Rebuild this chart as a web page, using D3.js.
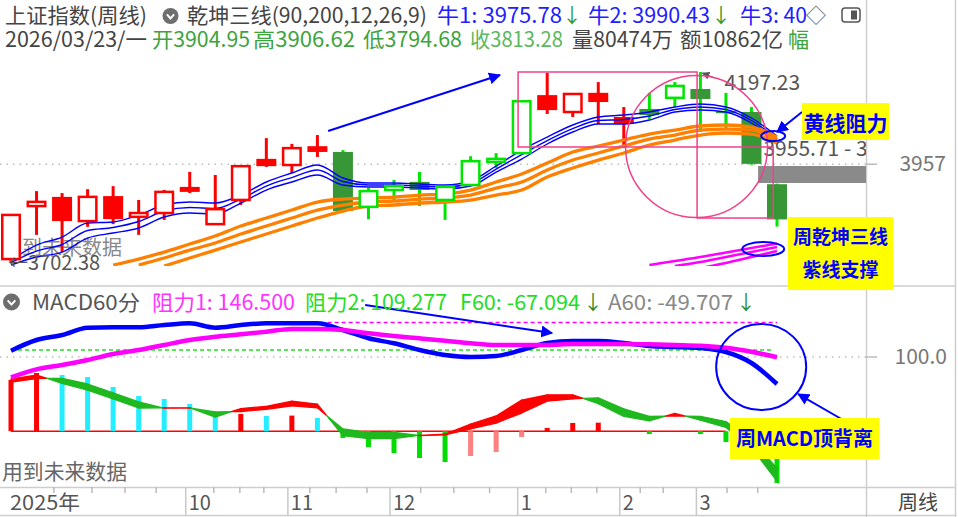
<!DOCTYPE html>
<html>
<head>
<meta charset="utf-8">
<title>上证指数(周线) 乾坤三线</title>
<script src="https://cdn.jsdelivr.net/npm/d3@7"></script>
<style>
  body { margin: 0; background: #fff; }
  svg { display: block; }
  text { font-family: "Noto Sans CJK SC", "Noto Sans", sans-serif; }
</style>
</head>
<body>
<svg id="chart" width="958" height="517"></svg>
<script>
//==========================================
// Data (weekly bars)
//==========================================

// Week start dates (categories)
const weeks = ["2025-08-18", "2025-08-25", "2025-09-01", "2025-09-08", "2025-09-15", "2025-09-22",
  "2025-09-29", "2025-10-09", "2025-10-13", "2025-10-20", "2025-10-27", "2025-11-03", "2025-11-10",
  "2025-11-17", "2025-11-24", "2025-12-01", "2025-12-08", "2025-12-15", "2025-12-22", "2025-12-29",
  "2026-01-05", "2026-01-12", "2026-01-19", "2026-01-26", "2026-02-02", "2026-02-09", "2026-02-23",
  "2026-03-02", "2026-03-09", "2026-03-16", "2026-03-23"];

const openP = [3710, 3848, 3872, 3809, 3874, 3820, 3830, 3898, 3801, 3864, 3971, 3955, 4004, 3989, 3846,
  3890, 3911, 3864, 3903, 3963, 3986, 4137, 4093, 4143, 4080, 4101, 4130, 4153, 4095, 4093, 3904.95];
const highP = [3825, 3887, 3882, 3892, 3900, 3864, 3890, 3937, 3929, 3953, 4025, 4010, 4033, 3994, 3895,
  3916, 3937, 3900, 3978, 3986, 4122, 4195, 4140, 4171, 4106, 4143, 4171, 4197.23, 4143, 4106, 3906.62];
const lowP = [3702.38, 3773, 3728, 3794, 3801, 3773, 3812, 3882, 3800, 3851, 3950, 3934, 3976, 3832, 3814,
  3859, 3848, 3812, 3902, 3947, 3985, 4088, 4080, 4062, 3999, 4075, 4106, 4041, 4049, 3955.71, 3794.68];
const closeP = [3825, 3859, 3809, 3872, 3814, 3830, 3885, 3885, 3840, 3952, 3952, 3999, 3989, 3835, 3887,
  3900, 3890, 3898, 3965, 3971, 4121, 4098, 4140, 4119, 4062, 4085, 4161, 4127, 4093, 3958, 3813.28];

// 1 = red (bull) state of the indicator, 0 = green
const trend = [1, 1, 1, 1, 1, 1, 1, 1, 1, 1, 1, 1, 1, 0, 0, 0, 0, 0, 0, 0, 0, 1, 1, 1, 1, 0, 0, 0, 0, 0, 0];

// 乾坤三线 blue lines
const blue1 = [3707.5, 3746.5, 3767.4, 3803.9, 3806.5, 3824.7, 3850.8, 3858.6, 3856.0, 3876.8, 3910.7, 3934.1,
  3955.0, 3921.1, 3908.1, 3908.1, 3905.5, 3902.8, 3913.3, 3952.4, 3994.0, 4027.9, 4059.2, 4080.0, 4085.2,
  4093.0, 4106.1, 4113.9, 4106.1, 4077.4, 4030.5];
const blue2 = [3701.0, 3730.9, 3747.9, 3784.3, 3792.2, 3807.8, 3835.1, 3844.2, 3841.6, 3866.4, 3900.2, 3922.3,
  3941.9, 3912.0, 3902.8, 3902.8, 3900.2, 3897.6, 3906.8, 3944.5, 3982.3, 4018.8, 4050.0, 4070.9, 4073.5,
  4082.6, 4099.5, 4106.1, 4099.5, 4070.9, 4024.0];
const blue3 = [3694.5, 3715.3, 3728.3, 3764.8, 3777.8, 3790.9, 3819.5, 3829.9, 3827.3, 3856.0, 3889.8, 3910.7,
  3928.9, 3902.8, 3897.6, 3897.6, 3895.0, 3892.4, 3900.2, 3936.7, 3970.6, 4009.7, 4040.9, 4061.8, 4061.8,
  4072.2, 4093.0, 4098.2, 4093.0, 4064.4, 4017.5];

// 黄线 (orange)
const orange1 = [null, null, null, null, 3694.5, 3710.1, 3728.3, 3749.2, 3770.0, 3796.1, 3816.9, 3837.7, 3858.6,
  3866.4, 3869.0, 3871.6, 3876.8, 3879.4, 3889.8, 3910.7, 3931.5, 3960.1, 3988.8, 4004.5, 4020.1, 4035.7,
  4046.1, 4056.6, 4059.2, 4053.9, 4027.9];
const orange2 = [null, null, null, null, null, 3694.5, 3712.7, 3733.5, 3751.8, 3775.2, 3796.1, 3816.9, 3837.7,
  3850.8, 3858.6, 3861.2, 3866.4, 3869.0, 3876.8, 3895.0, 3910.7, 3941.9, 3967.9, 3986.2, 4004.5, 4022.7,
  4033.1, 4046.1, 4048.7, 4046.1, 4020.1];
const orange3 = [null, null, null, null, null, null, 3691.9, 3712.7, 3733.5, 3754.4, 3775.2, 3796.1, 3816.9,
  3835.1, 3848.2, 3850.8, 3856.0, 3858.6, 3863.8, 3876.8, 3889.8, 3923.7, 3947.1, 3967.9, 3986.2, 4007.1,
  4020.1, 4033.1, 4038.3, 4035.7, 4012.3];

// 紫线 (magenta support)
const purple1 = [null, null, null, null, null, null, null, null, null, null, null, null, null, null, null, null,
  null, null, null, null, null, null, null, null, null, 3694.5, 3704.9, 3715.3, 3727.0, 3738.7, 3750.5];
const purple2 = [null, null, null, null, null, null, null, null, null, null, null, null, null, null, null, null,
  null, null, null, null, null, null, null, null, null, null, 3691.9, 3702.3, 3715.3, 3728.3, 3741.3];
const purple3 = [null, null, null, null, null, null, null, null, null, null, null, null, null, null, null, null,
  null, null, null, null, null, null, null, null, null, null, null, 3686.6, 3699.7, 3715.3, 3730.9];

const bullLevels = [3975.78, 3990.43];
const lastVolume = "80474万";
const lastAmount = "10862亿";

// MACD60分 panel
const macdBlue = [108.5, 122.9, 129.6, 139.5, 140.0, 140.0, 143.1, 145.4, 139.5, 143.1, 145.4, 145.4, 145.4,
  136.4, 125.2, 118.5, 109.4, 102.7, 100.0, 101.3, 109.4, 118.9, 121.6, 121.6, 118.9, 114.8, 113.5, 112.1,
  106.7, 91.9, 63.6];
const macdPink = [72.6, 83.4, 89.2, 96.0, 104.0, 109.4, 116.2, 122.9, 127.4, 130.6, 134.1, 137.7, 137.7, 136.4,
  131.9, 128.3, 125.2, 122.0, 118.5, 116.2, 116.2, 116.2, 117.5, 117.5, 117.5, 117.1, 116.2, 115.2, 112.5,
  107.1, 99.6];
const macdHist = [69.0, 78.4, 75.7, 73.0, 59.6, 47.4, 43.4, 36.7, 21.8, 23.2, 20.5, 21.0, 17.8, -9.2, -21.3,
  -29.4, -36.1, -41.5, -33.4, -28.0, -7.8, 4.4, 11.1, 11.5, 0, -3.8, 0, -3.8, -14.6, -33, -69.8];
const f60 = [70.4, 75.7, 64.6, 55.5, 43.4, 31.3, 31.5, 31.5, 19.1, 30.5, 33.5, 40.5, 36.5, -6, -10, -10, -5.5,
  -4, 9.7, 20.5, 42, 49, 49, 37, 20, 14, 24, 15, 5, -22, -67.094];
const a60 = [66, 71, 71.3, 63.6, 51.5, 39.4, 31.0, 31.2, 25.9, 26.5, 29.5, 34.0, 31.5, 3, -1.5, -1.5, -5.8, -5,
  3.0, 11, 24.5, 40.5, 43.5, 45, 30, 20, 20.5, 20, 13, -12, -49.707];
const resist1 = 146.5;
const resist2 = 109.277;

// Axis ticks
const priceTicks = [3957];
const macdTicks = [100.0];
const minorTicks = [1.84, 3.33, 4.62, 5.84, 8.1, 9.12, 10.06, 11.86, 12.89, 14.1, 16.2, 17.5, 18.9, 21.1,
  22.1, 23.1, 24.8, 25.7, 28.2, 29.4];

//==========================================
// Scales and helpers
//==========================================
const RED = "#ff0000", GREEN = "#00e600", DGREEN = "#379737", BLUE = "#0000ff";
const PINK = "#f0408a", ORANGE = "#ff8000", MAGENTA = "#ff00ff";
const RIGHT = 866;

const x = d3.scaleLinear().domain([0, weeks.length - 1]).range([11, 777]);
const yP = d3.scaleLinear().domain([3702.38, 4197.23]).range([262, 72]);
const yM = d3.scaleLinear().domain([0, 100]).range([431.2, 357]);

const svg = d3.select("#chart");
const defs = svg.append("defs");

defs.append("clipPath").attr("id", "clip-main")
  .append("rect").attr("x", 0).attr("y", 55).attr("width", RIGHT).attr("height", 211);
defs.append("clipPath").attr("id", "clip-left")
  .append("rect").attr("x", 0).attr("y", 0).attr("width", RIGHT).attr("height", 517);

function addMarker(id, color, w) {
  defs.append("marker").attr("id", id)
    .attr("viewBox", "0 0 10 10").attr("refX", 9).attr("refY", 5)
    .attr("markerWidth", w).attr("markerHeight", w)
    .attr("orient", "auto")
    .append("path").attr("d", "M0,0 L10,5 L0,10 z").attr("fill", color);
}
addMarker("arrow-blue", BLUE, 6);
addMarker("arrow-gray", "#555", 6);

function addText(g, str, px, py, opts = {}) {
  const t = g.append("text")
    .attr("x", px).attr("y", py)
    .attr("font-size", opts.size || 20)
    .attr("font-weight", opts.weight || "normal")
    .attr("fill", opts.fill || "#444")
    .attr("text-anchor", opts.anchor || "start")
    .text(str);
  // stretch to the width measured on the reference
  if (opts.len) t.attr("textLength", opts.len).attr("lengthAdjust", "spacingAndGlyphs");
  return t;
}

function chevronIcon(g, cx, cy, r) {
  g.append("circle").attr("cx", cx).attr("cy", cy).attr("r", r).attr("fill", "#6e6e6e");
  g.append("path")
    .attr("d", `M${cx - r * 0.45},${cy - r * 0.2} L${cx},${cy + r * 0.3} L${cx + r * 0.45},${cy - r * 0.2}`)
    .attr("fill", "none").attr("stroke", "#fff").attr("stroke-width", 2);
}

//==========================================
// Frame
//==========================================
const frame = svg.append("g").attr("stroke", "#cdcdcd").attr("stroke-width", 1.5);
frame.append("line").attr("x1", RIGHT + 0.5).attr("x2", RIGHT + 0.5).attr("y1", 0).attr("y2", 517);
frame.append("line").attr("x1", 955.5).attr("x2", 955.5).attr("y1", 0).attr("y2", 517);
frame.append("line").attr("x1", 0).attr("x2", 956).attr("y1", 286).attr("y2", 286);
frame.append("line").attr("x1", 0).attr("x2", 956).attr("y1", 487.5).attr("y2", 487.5);
frame.append("line").attr("x1", 0).attr("x2", 956).attr("y1", 515.5).attr("y2", 515.5);

//==========================================
// Price panel
//==========================================
const main = svg.append("g");

// dotted guide + right axis label
priceTicks.forEach(v => {
  main.append("line").attr("x1", 0).attr("x2", RIGHT).attr("y1", yP(v)).attr("y2", yP(v))
    .attr("stroke", "#bdbdbd").attr("stroke-width", 1.5).attr("stroke-dasharray", "1.5,5");
  main.append("line").attr("x1", RIGHT).attr("x2", RIGHT + 11).attr("y1", yP(v)).attr("y2", yP(v))
    .attr("stroke", "#bdbdbd").attr("stroke-width", 1.5);
  addText(main, String(v), 946, yP(v) + 7, { fill: "#777", anchor: "end", size: 21 });
});

addText(main, "用到未来数据", 2, 255, { fill: "#888", size: 20 });

// gray band on the right (current level area)
main.append("rect")
  .attr("x", x(29.26)).attr("y", yP(3952.4))
  .attr("width", RIGHT - x(29.26)).attr("height", yP(3908.1) - yP(3952.4))
  .attr("fill", "#8a8a8a");

const candles = weeks.map((w, i) => ({
  i, o: openP[i], h: highP[i], l: lowP[i], c: closeP[i], bull: trend[i] === 1
}));
const bodyW = 20;

// wicks
main.selectAll(".wick").data(candles).enter().append("line")
  .attr("class", "wick")
  .attr("x1", d => x(d.i)).attr("x2", d => x(d.i))
  .attr("y1", d => yP(d.h)).attr("y2", d => yP(d.l))
  .attr("stroke", d => d.bull ? RED : GREEN).attr("stroke-width", 3);

// solid bodies (close <= open)
main.selectAll(".solid").data(candles.filter(d => d.c <= d.o)).enter().append("rect")
  .attr("class", "solid")
  .attr("x", d => x(d.i) - bodyW / 2).attr("y", d => yP(d.o))
  .attr("width", bodyW).attr("height", d => Math.max(2, yP(d.c) - yP(d.o)))
  .attr("fill", d => d.bull ? RED : DGREEN);

// indicator lines (clipped to the panel)
const lines = main.append("g").attr("clip-path", "url(#clip-main)");
const priceLine = d3.line()
  .defined(v => v != null)
  .x((v, i) => x(i)).y(v => yP(v))
  .curve(d3.curveMonotoneX);

[purple3, purple2, purple1].forEach(s => {
  lines.append("path").attr("d", priceLine(s))
    .attr("fill", "none").attr("stroke", MAGENTA).attr("stroke-width", 2.5);
});
[blue3, blue2, blue1].forEach(s => {
  lines.append("path").attr("d", priceLine(s))
    .attr("fill", "none").attr("stroke", BLUE).attr("stroke-width", 1.4);
});
[orange3, orange2, orange1].forEach(s => {
  lines.append("path").attr("d", priceLine(s))
    .attr("fill", "none").attr("stroke", ORANGE).attr("stroke-width", 3.3);
});

// hollow bodies (close > open) on top
const hw = bodyW - 2.5;
main.selectAll(".hollow").data(candles.filter(d => d.c > d.o)).enter().append("rect")
  .attr("class", "hollow")
  .attr("x", d => x(d.i) - hw / 2).attr("y", d => yP(d.c))
  .attr("width", hw).attr("height", d => Math.max(1, yP(d.o) - yP(d.c)))
  .attr("fill", "#fff")
  .attr("stroke", d => d.bull ? RED : GREEN).attr("stroke-width", 2.5);

// extreme labels
const lowMin = d3.min(lowP), highMax = d3.max(highP);
const iHigh = highP.indexOf(highMax);
addText(main, "←" + lowMin.toFixed(2), x(0) - 3, yP(lowMin) + 8, { fill: "#555", size: 20 });
main.append("line")
  .attr("x1", x(iHigh + 0.55)).attr("y1", yP(highMax) + 6)
  .attr("x2", x(iHigh) + 2).attr("y2", yP(highMax) + 1)
  .attr("stroke", "#555").attr("stroke-width", 1.3).attr("marker-end", "url(#arrow-gray)");
addText(main, highMax.toFixed(2), x(iHigh) + 24, yP(highMax) + 18, { fill: "#555", size: 21 });
main.append("g").attr("clip-path", "url(#clip-left)")
  .call(g => addText(g, lowP[29].toFixed(2) + " - " + closeP[30].toFixed(2), x(29) + 12,
    yP(lowP[29]) - 9, { fill: "#555", size: 21 }));

//==========================================
// Price panel annotations
//==========================================
const ann = svg.append("g").attr("fill", "none");

ann.append("rect")
  .attr("x", x(19.86)).attr("y", yP(highMax))
  .attr("width", x(26.87) - x(19.86)).attr("height", yP(4001.9) - yP(highMax))
  .attr("stroke", PINK).attr("stroke-width", 1.5);
ann.append("rect")
  .attr("x", x(26.87)).attr("y", yP(4001.9))
  .attr("width", x(29.85) - x(26.87)).attr("height", yP(3816.9) - yP(4001.9))
  .attr("stroke", PINK).attr("stroke-width", 1.5);
ann.append("circle")
  .attr("cx", x(26.85)).attr("cy", yP(4003.2)).attr("r", 71)
  .attr("stroke", PINK).attr("stroke-width", 1.5);

function arrow(g, x1, y1, x2, y2) {
  g.append("line").attr("x1", x1).attr("y1", y1).attr("x2", x2).attr("y2", y2)
    .attr("stroke", BLUE).attr("stroke-width", 2).attr("marker-end", "url(#arrow-blue)");
}
arrow(ann, x(12.42), yP(4043.5), x(19.15), yP(4189.4));
arrow(ann, x(30.98), yP(4093.0), x(30.0), yP(4040.9));

ann.append("ellipse").attr("cx", x(29.85)).attr("cy", yP(4030.5)).attr("rx", 12).attr("ry", 5)
  .attr("stroke", BLUE).attr("stroke-width", 2);
ann.append("ellipse").attr("cx", x(29.46)).attr("cy", yP(3736.1)).attr("rx", 21).attr("ry", 7)
  .attr("stroke", BLUE).attr("stroke-width", 2);

function yellowLabel(g, x0, x1, y0, y1, rows, size) {
  g.append("rect").attr("x", x0).attr("y", y0).attr("width", x1 - x0).attr("height", y1 - y0)
    .attr("fill", "#ffff00");
  rows.forEach(r => addText(g, r.t, (x0 + x1) / 2, y0 + r.dy,
    { fill: BLUE, weight: "bold", size, anchor: "middle" }));
}
const labels = svg.append("g");
yellowLabel(labels, x(30.98), x(34.39), yP(4116.5), yP(4020.1), [{ t: "黄线阻力", dy: 28 }], 21);
yellowLabel(labels, x(30.43), x(34.55), yP(3819.5), yP(3629.3),
  [{ t: "周乾坤三线", dy: 27 }, { t: "紫线支撑", dy: 60 }], 19);

//==========================================
// Header
//==========================================
const head = svg.append("g");
const last = candles[candles.length - 1];
const fmt = d3.format(".2f");
addText(head, "上证指数(周线)", 5, 23, { size: 21, len: 142 });
chevronIcon(head, 170.5, 16, 8);
addText(head, "乾坤三线(90,200,12,26,9)", 187, 23, { size: 21, len: 240 });
addText(head, "牛1: " + bullLevels[0].toFixed(2), 437, 23, { fill: "#2020ff", size: 21, len: 125 });
addText(head, "↓", 562, 23, { fill: "#2e9a2e", size: 20 });
addText(head, "牛2: " + bullLevels[1].toFixed(2), 588, 23, { fill: "#2020ff", size: 21, len: 122 });
addText(head, "↓", 711, 23, { fill: "#2e9a2e", size: 20 });
addText(head, "牛3: 40", 740, 23, { fill: "#2020ff", size: 21, len: 67 });
addText(head, "◇", 806, 23, { fill: "#666", size: 20 });
head.append("rect").attr("x", 842).attr("y", 8).attr("width", 18).attr("height", 14).attr("rx", 3)
  .attr("fill", "none").attr("stroke", "#555").attr("stroke-width", 1.5);
head.append("rect").attr("x", 851).attr("y", 10.5).attr("width", 6).attr("height", 9).attr("fill", "#555");

addText(head, "2026/03/23/一", 5, 47, { size: 21, len: 142 });
addText(head, "开" + fmt(last.o), 152, 47, { fill: "#3da33d", size: 21, len: 98 });
addText(head, "高" + fmt(last.h), 253, 47, { fill: "#3da33d", size: 21, len: 102 });
addText(head, "低" + fmt(last.l), 363, 47, { fill: "#3da33d", size: 21, len: 99 });
addText(head, "收" + fmt(last.c), 470, 47, { fill: "#5cb85c", size: 21, len: 93 });
addText(head, "量" + lastVolume, 572, 47, { size: 21, len: 101 });
addText(head, "额" + lastAmount, 680, 47, { size: 21, len: 103 });
addText(head, "幅", 788, 47, { fill: "#3da33d", size: 21 });

//==========================================
// MACD60分 panel
//==========================================
const macd = svg.append("g");

macdTicks.forEach(v => {
  macd.append("line").attr("x1", 0).attr("x2", RIGHT).attr("y1", yM(v)).attr("y2", yM(v))
    .attr("stroke", "#bdbdbd").attr("stroke-width", 1.5).attr("stroke-dasharray", "1.5,5");
  macd.append("line").attr("x1", RIGHT).attr("x2", RIGHT + 11).attr("y1", yM(v)).attr("y2", yM(v))
    .attr("stroke", "#bdbdbd").attr("stroke-width", 1.5);
  addText(macd, v.toFixed(1), 947, yM(v) + 7, { fill: "#777", anchor: "end", size: 21 });
});

// resistance dashed lines
macd.append("line").attr("x1", x(12.4)).attr("x2", x(30)).attr("y1", yM(resist1)).attr("y2", yM(resist1))
  .attr("stroke", MAGENTA).attr("stroke-width", 1.5).attr("stroke-dasharray", "4,3");
macd.append("line").attr("x1", x(0)).attr("x2", x(29.8)).attr("y1", yM(resist2)).attr("y2", yM(resist2))
  .attr("stroke", "#22dd22").attr("stroke-width", 1.5).attr("stroke-dasharray", "4,3");

addText(macd, "用到未来数据", 2, 479, { fill: "#666", size: 21, len: 125 });

// zero line
macd.append("line").attr("x1", x(0)).attr("x2", x(28)).attr("y1", yM(0)).attr("y2", yM(0))
  .attr("stroke", RED).attr("stroke-width", 1.5);

// histogram
const histColor = (v, i) => {
  const prev = i > 0 ? macdHist[i - 1] : -Infinity;
  if (v >= 0) return v >= prev ? RED : "#22eeff";
  return v <= prev ? "#00dd00" : "#ff8080";
};
macd.selectAll(".bar").data(macdHist.map((v, i) => ({ v, i }))).enter().append("rect")
  .attr("class", "bar")
  .attr("x", d => x(d.i) - 2.5)
  .attr("y", d => yM(Math.max(0, d.v)))
  .attr("width", 5)
  .attr("height", d => Math.abs(yM(d.v) - yM(0)))
  .attr("fill", d => histColor(d.v, d.i));

// F60 / A60 band: red where F60 above A60, green below
const lerp = (a, b, t) => a + (b - a) * t;
const band = macd.append("g");
for (let i = 1; i < weeks.length; i++) {
  const d0 = f60[i - 1] - a60[i - 1], d1 = f60[i] - a60[i];
  const cuts = d0 * d1 < 0 ? [0, d0 / (d0 - d1), 1] : [0, 1];
  for (let k = 0; k < cuts.length - 1; k++) {
    const ta = cuts[k], tb = cuts[k + 1];
    const up = lerp(d0, d1, (ta + tb) / 2) > 0;
    const pts = [
      [lerp(x(i - 1), x(i), ta), yM(lerp(f60[i - 1], f60[i], ta))],
      [lerp(x(i - 1), x(i), tb), yM(lerp(f60[i - 1], f60[i], tb))],
      [lerp(x(i - 1), x(i), tb), yM(lerp(a60[i - 1], a60[i], tb))],
      [lerp(x(i - 1), x(i), ta), yM(lerp(a60[i - 1], a60[i], ta))]
    ];
    band.append("path").attr("d", "M" + pts.join("L") + "Z")
      .attr("fill", up ? RED : "#1fb81f").attr("stroke", up ? RED : "#1fb81f")
      .attr("stroke-width", 1.3).attr("stroke-linejoin", "round");
  }
}

const macdLine = d3.line().x((v, i) => x(i)).y(v => yM(v)).curve(d3.curveMonotoneX);
macd.append("path").attr("d", macdLine(macdBlue))
  .attr("fill", "none").attr("stroke", BLUE).attr("stroke-width", 4.5);
macd.append("path").attr("d", macdLine(macdPink))
  .attr("fill", "none").attr("stroke", MAGENTA).attr("stroke-width", 4.5);

// MACD annotations
arrow(macd, x(13.87), yM(170.1), x(21.19), yM(132.3));
macd.append("ellipse").attr("cx", x(29.38)).attr("cy", yM(86.5)).attr("rx", 45).attr("ry", 43)
  .attr("fill", "none").attr("stroke", BLUE).attr("stroke-width", 2);
arrow(macd, x(32.59), yM(15.1), x(30.83), yM(50.1));
yellowLabel(macd, x(28.16), x(34.0), yM(17.8), yM(-37.5), [{ t: "周MACD顶背离", dy: 28 }], 20);

// MACD header
chevronIcon(macd, 11.5, 302, 8.5);
addText(macd, "MACD60分", 32, 310, { fill: "#555", size: 21, len: 108 });
addText(macd, "阻力1: " + resist1.toFixed(3), 152, 310, { fill: "#ff33ff", size: 21, len: 143 });
addText(macd, "阻力2: " + resist2.toFixed(3), 305, 310, { fill: "#22dd22", size: 21, len: 142 });
addText(macd, "F60: " + f60[f60.length - 1].toFixed(3), 460, 310, { fill: "#22dd22", size: 21, len: 120 });
addText(macd, "↓", 583, 310, { fill: "#2e8b2e", size: 20 });
addText(macd, "A60: " + a60[a60.length - 1].toFixed(3), 608, 310, { fill: "#888", size: 21, len: 125 });
addText(macd, "↓", 736, 310, { fill: "#2e8b2e", size: 20 });

//==========================================
// Time axis
//==========================================
const axis = svg.append("g");
const tickShift = -4;
const monthTicks = [];
weeks.forEach((w, i) => {
  const m = +w.slice(5, 7);
  if (i > 0 && m !== +weeks[i - 1].slice(5, 7) && x(i) > 120) monthTicks.push({ i, label: String(m) });
});

axis.selectAll(".minor").data(minorTicks).enter().append("line")
  .attr("x1", d => x(d) + tickShift).attr("x2", d => x(d) + tickShift)
  .attr("y1", 487).attr("y2", 493)
  .attr("stroke", "#bbb").attr("stroke-width", 1.5);
axis.selectAll(".major").data(monthTicks).enter().append("line")
  .attr("x1", d => x(d.i) + tickShift).attr("x2", d => x(d.i) + tickShift)
  .attr("y1", 487).attr("y2", 516)
  .attr("stroke", "#c8c8c8").attr("stroke-width", 1.5);
monthTicks.forEach(d => addText(axis, d.label, x(d.i) + tickShift + 3, 510, { fill: "#555", size: 20 }));
addText(axis, weeks[0].slice(0, 4) + "年", 10, 510, { fill: "#555", size: 20, len: 70 });
addText(axis, "周线", 898, 510, { fill: "#444", size: 20 });
</script>
</body>
</html>
